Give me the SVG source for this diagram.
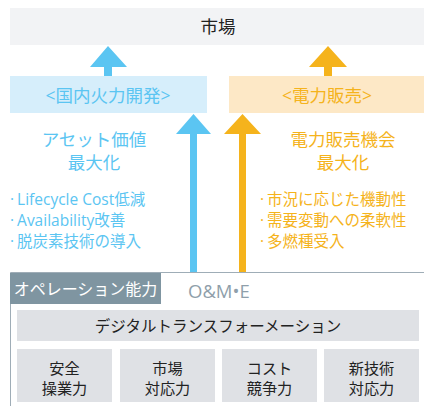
<svg xmlns="http://www.w3.org/2000/svg" width="424" height="406" viewBox="0 0 424 406">
<style>
text{font-family:"Noto Sans CJK JP","Noto Sans",sans-serif;}
.l{font-family:"Open Sans","Noto Sans CJK JP",sans-serif;}
.b{fill:#5bc5f2;}
.o{fill:#f5b31c;}
.c{text-anchor:middle;}
.g{fill:#222;}
.gb{fill:#dfe1e5;}
</style>
<rect width="424" height="406" fill="#fff"/>
<g id="connectors">
<path class="b" d="M104,76 V67 H90 L108,46 L127,67 H112 V76 Z"/>
<path class="o" d="M324,76 V67 H309 L328,46 L347,67 H332 V76 Z"/>
<path class="b" d="M190,272 V134 H176 L193.5,114 L211,134 H197 V272 Z"/>
<path class="o" d="M239,272 V134 H224 L242.5,114 L261,134 H246 V272 Z"/>
</g>
<g id="market">
<rect x="10" y="8" width="414" height="37" fill="#f2f3f5"/>
<text x="218" y="33" class="c g" font-size="17.5">市場</text>
</g>
<g id="domestic">
<rect x="10" y="76" width="197" height="37" fill="#d6eefb"/>
<text x="108" y="101.5" class="c b" font-size="17.5"><tspan class="l">&lt;</tspan>国内火力開発<tspan class="l">&gt;</tspan></text>
</g>
<g id="sales">
<rect x="229" y="76" width="195" height="37" fill="#fde8c6"/>
<text x="327" y="101.5" class="c o" font-size="17.5"><tspan class="l">&lt;</tspan>電力販売<tspan class="l">&gt;</tspan></text>
</g>
<g id="asset">
<text x="94" y="146" class="c b" font-size="17.5">アセット価値</text>
<text x="94" y="169" class="c b" font-size="17.5">最大化</text>
<text x="10" y="205" class="b l" font-size="15.5">·<tspan dx="3">Lifecycle Cost低減</tspan></text>
<text x="10" y="226" class="b l" font-size="15.5">·<tspan dx="3">Availability改善</tspan></text>
<text x="10" y="247" class="b l" font-size="15.5">·<tspan dx="3">脱炭素技術の導入</tspan></text>
</g>
<g id="salesmax">
<text x="343" y="146" class="c o" font-size="17.5">電力販売機会</text>
<text x="343" y="169" class="c o" font-size="17.5">最大化</text>
<text x="260" y="205" class="o l" font-size="15.5">·<tspan dx="3">市況に応じた機動性</tspan></text>
<text x="260" y="226" class="o l" font-size="15.5">·<tspan dx="3">需要変動への柔軟性</tspan></text>
<text x="260" y="247" class="o l" font-size="15.5">·<tspan dx="3">多燃種受入</tspan></text>
</g>
<g id="operation">
<path d="M10.5,406 V272.5 H424" fill="none" stroke="#9fadb7" stroke-width="1"/>
<rect x="10" y="273" width="151" height="31" fill="#7f95a1"/>
<text x="85.5" y="295" class="c" font-size="16" fill="#fff">オペレーション能力</text>
<text x="188" y="297.5" class="l" font-size="18.5" fill="#8f9fab">O&amp;M•E</text>
</g>
<g id="dx">
<rect x="17" y="310" width="402" height="31" class="gb"/>
<text x="218" y="331.5" class="c g" font-size="15.5">デジタルトランスフォーメーション</text>
</g>
<g id="safety">
<rect x="17" y="349" width="95" height="53" class="gb"/>
<text x="64.5" y="373.5" class="c g" font-size="15.2">安全</text>
<text x="64.5" y="393.5" class="c g" font-size="15.2">操業力</text>
</g>
<g id="market-resp">
<rect x="120" y="349" width="95" height="53" class="gb"/>
<text x="167.5" y="373.5" class="c g" font-size="15.2">市場</text>
<text x="167.5" y="393.5" class="c g" font-size="15.2">対応力</text>
</g>
<g id="cost">
<rect x="222" y="349" width="95" height="53" class="gb"/>
<text x="269.5" y="373.5" class="c g" font-size="15.2">コスト</text>
<text x="269.5" y="393.5" class="c g" font-size="15.2">競争力</text>
</g>
<g id="newtech">
<rect x="324" y="349" width="95" height="53" class="gb"/>
<text x="371.5" y="373.5" class="c g" font-size="15.2">新技術</text>
<text x="371.5" y="393.5" class="c g" font-size="15.2">対応力</text>
</g>
</svg>
